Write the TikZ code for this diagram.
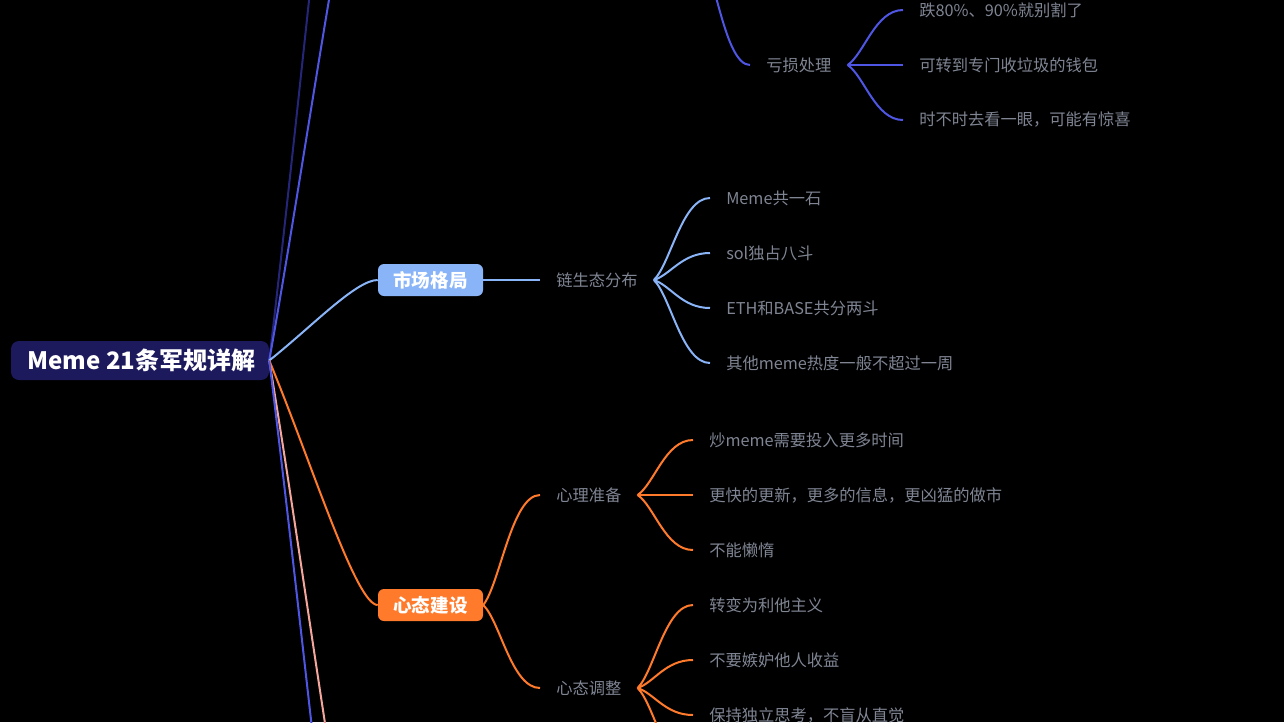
\documentclass[tikz,border=0pt]{standalone}
\usepackage{fontspec}
\setmainfont{Noto Sans CJK SC}
\usetikzlibrary{calc}
\definecolor{rootc}{HTML}{1C1A5C}
\definecolor{navyc}{HTML}{25267A}
\definecolor{bbluec}{HTML}{4F56E3}
\definecolor{lbluec}{HTML}{8AB4F8}
\definecolor{orngc}{HTML}{FF7A2B}
\definecolor{pinkc}{HTML}{F4A59C}
\definecolor{txtc}{HTML}{7F8593}
\begin{document}
\begin{tikzpicture}[x=0.75pt,y=-0.75pt,
  mmr/.style={line width=1.5pt, to path={let \p1=(\tikztostart), \p2=(\tikztotarget) in
     .. controls ($(\p1)+({0.4*(\x2-\x1)},{0.43*(\y2-\y1)})$) and ($(\p2)+({-0.2*(\x2-\x1)},0pt)$) .. (\p2)}},
  mm/.style={line width=1.5pt, to path={let \p1=(\tikztostart), \p2=(\tikztotarget) in
     .. controls ($(\p1)+({0.3*(\x2-\x1)},{0.2*(\y2-\y1)})$) and ($(\p2)+({-0.5*(\x2-\x1)},0pt)$) .. (\p2)}},
  rootbox/.style={fill=rootc, rounded corners=6pt, minimum width=193.5pt, minimum height=29.25pt, inner sep=0pt, text=white, font=\bfseries\fontsize{18pt}{21pt}\selectfont},
  l1box/.style={rounded corners=4.5pt, minimum width=78.75pt, minimum height=24pt, inner sep=0pt, text=white, font=\bfseries\fontsize{13.9pt}{16pt}\selectfont},
  l2txt/.style={anchor=west, text=txtc, inner xsep=12pt, inner ysep=2pt, font=\fontsize{12.2pt}{14pt}\selectfont},
  leaftxt/.style={anchor=west, text=txtc, inner xsep=12pt, inner ysep=2pt, font=\fontsize{12.2pt}{14pt}\selectfont}]
\useasboundingbox (0,0) rectangle (1284,722);
\fill[black] (0,0) rectangle (1284,722);
\clip (0,0) rectangle (1284,722);

% nodes
\node[rootbox] (root) at (140,360.5) {\hspace*{2pt}Meme 21条军规详解};
\node[l1box, fill=lbluec] (mkt) at (430.5,280) {市场格局};
\node[l1box, fill=orngc] (xt) at (430.5,605) {心态建设};

% off-screen anchors
\coordinate (t1) at (378,-500);
\coordinate (t2) at (378,-210);
\coordinate (t5) at (378,975);
\coordinate (t6) at (378,1177);
\coordinate (kp) at (700,-50);
\coordinate (x4) at (693,770);

% level 2
\node[l2txt] (lsd) at (540,280) {链生态分布};
\node[l2txt] (ks) at (750,65) {亏损处理};
\node[l2txt] (xl) at (540,495) {心理准备};
\node[l2txt] (xtz) at (540,688) {心态调整};

% leaves
\node[leaftxt] (k1) at (903,10) {跌80\%、90\%就别割了};
\node[leaftxt] (k2) at (903,65) {可转到专门收垃圾的钱包};
\node[leaftxt] (k3) at (903,120) {时不时去看一眼，可能有惊喜};

\node[leaftxt] (m1) at (710,198) {Meme共一石};
\node[leaftxt] (m2) at (710,253) {sol独占八斗};
\node[leaftxt] (m3) at (710,308) {ETH和BASE共分两斗};
\node[leaftxt] (m4) at (710,363) {其他meme热度一般不超过一周};

\node[leaftxt] (p1) at (693,440) {炒meme需要投入更多时间};
\node[leaftxt] (p2) at (693,495) {更快的更新，更多的信息，更凶猛的做市};
\node[leaftxt] (p3) at (693,550) {不能懒惰};

\node[leaftxt] (q1) at (693,605) {转变为利他主义};
\node[leaftxt] (q2) at (693,660) {不要嫉妒他人收益};
\node[leaftxt] (q3) at (693,715) {保持独立思考，不盲从直觉};

% connectors from root
\draw[navyc, mmr] (root.east) to (t1);
\draw[bbluec, mmr] (root.east) to (t2);
\draw[lbluec, mmr] (root.east) to (mkt.west);
\draw[orngc, mmr] (root.east) to (xt.west);
\draw[pinkc, mmr] (root.east) to (t5);
\draw[bbluec, mmr] (root.east) to (t6);

% market branch
\draw[lbluec, mm] (mkt.east) to (lsd.west);
\foreach \c in {m1,m2,m3,m4} \draw[lbluec, mm] (lsd.east) to (\c.west);

% loss branch
\draw[bbluec, mm] (kp) to (ks.west);
\foreach \c in {k1,k2,k3} \draw[bbluec, mm] (ks.east) to (\c.west);

% mindset branch
\draw[orngc, mm] (xt.east) to (xl.west);
\draw[orngc, mm] (xt.east) to (xtz.west);
\foreach \c in {p1,p2,p3} \draw[orngc, mm] (xl.east) to (\c.west);
\foreach \c in {q1,q2,q3} \draw[orngc, mm] (xtz.east) to (\c.west);
\draw[orngc, mm] (xtz.east) to (x4);
\end{tikzpicture}
\end{document}
